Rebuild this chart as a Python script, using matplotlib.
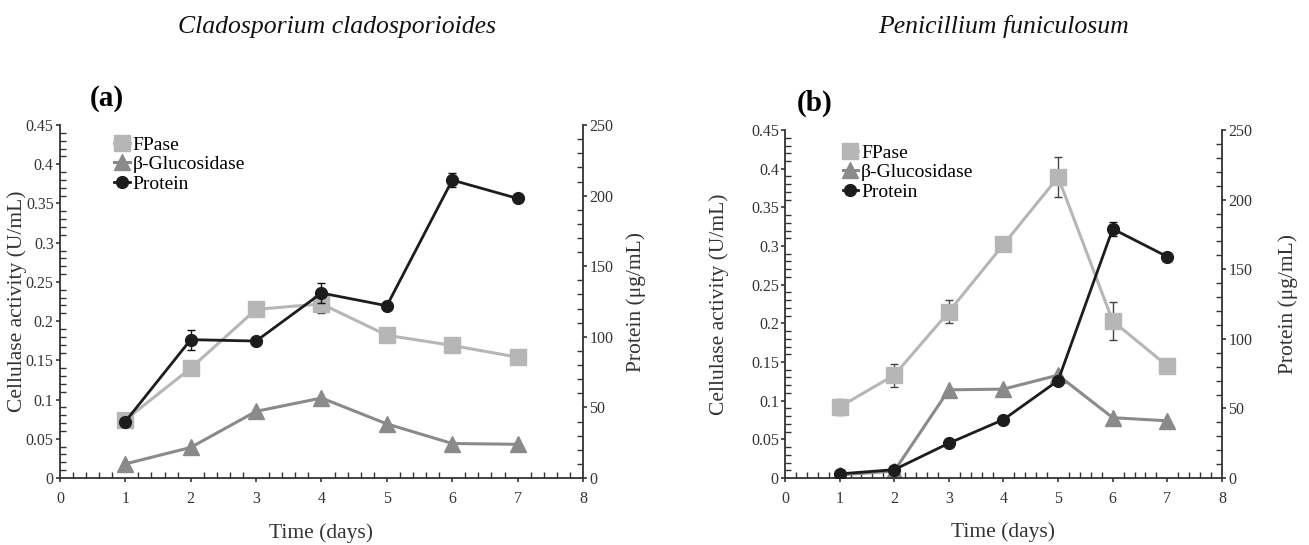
import matplotlib
matplotlib.use('Agg')
import matplotlib.pyplot as plt
from matplotlib.ticker import MultipleLocator, FormatStrFormatter

plt.rcParams['font.family'] = ['Liberation Serif', 'DejaVu Serif']

days = [1, 2, 3, 4, 5, 6, 7]

# (a) Cladosporium cladosporioides
fpase_a = [0.074, 0.140, 0.215, 0.222, 0.182, 0.169, 0.154]
fpase_a_err = [0, 0, 0, 0.012, 0, 0, 0]
bglu_a = [0.018, 0.039, 0.085, 0.102, 0.069, 0.044, 0.043]
prot_a = [40, 98, 97, 131, 122, 211, 198]
prot_a_err = [0, 7, 0, 7, 0, 5, 0]

# (b) Penicillium funiculosum
fpase_b = [0.092, 0.133, 0.215, 0.302, 0.389, 0.203, 0.145]
fpase_b_err = [0.010, 0.015, 0.015, 0.003, 0.026, 0.025, 0]
bglu_b = [0.004, 0.009, 0.114, 0.115, 0.133, 0.078, 0.074]
prot_b = [3, 6, 25, 42, 70, 179, 159]
prot_b_err = [0, 0, 0, 0, 0, 5, 0]

titles = ['Cladosporium cladosporioides', 'Penicillium funiculosum']
panel_tags = ['(a)', '(b)']

c_fpase = '#b6b6b6'
c_bglu = '#8a8a8a'
c_prot = '#1c1c1c'
c_axis = '#333333'

fig = plt.figure(figsize=(13.09, 5.45), dpi=100)
rects = [[0.0458, 0.1229, 0.3996, 0.6477], [0.5997, 0.1229, 0.3338, 0.6385]]
data = [(fpase_a, fpase_a_err, bglu_a, prot_a, prot_a_err),
        (fpase_b, fpase_b_err, bglu_b, prot_b, prot_b_err)]
# label positions (axes coords) for left/right y labels and legend anchor
ylab_x = [(-0.082, 1.101), (-0.151, 1.151)]
leg_pos = [(0.104, 0.969), (0.132, 0.96)]
title_x = [337, 1004]
tag_pos = [(90, 98), (797, 103)]


def style_axis(ax):
    for s in ax.spines.values():
        s.set_linewidth(1.3)
        s.set_color(c_axis)
    ax.tick_params(which='major', direction='out', length=3, width=1.2, pad=1.5,
                   labelsize=11.5, colors=c_axis, labelcolor=c_axis)
    ax.tick_params(which='minor', direction='in', length=4, width=1.0, colors=c_axis)


for i, (fp, fp_err, bg, pr, pr_err) in enumerate(data):
    ax = fig.add_axes(rects[i])
    ax2 = ax.twinx()
    ax.spines['top'].set_visible(False)
    ax2.spines['top'].set_visible(False)
    ax.spines['right'].set_visible(False)
    ax2.spines['left'].set_visible(False)
    ax2.spines['bottom'].set_visible(False)

    l1 = ax.errorbar(days, fp, yerr=fp_err, color=c_fpase, marker='s', markersize=11,
                     lw=2.2, ecolor='#444444', elinewidth=1.0, capsize=3, label='FPase')
    l2, = ax.plot(days, bg, color=c_bglu, marker='^', markersize=12, lw=2.2,
                  label='β-Glucosidase')
    l3 = ax2.errorbar(days, pr, yerr=pr_err, color=c_prot, marker='o', markersize=8.5,
                      lw=2.0, ecolor='#111111', elinewidth=1.0, capsize=3, label='Protein')

    ax.set_xlim(0, 8)
    ax.set_ylim(0, 0.45)
    ax2.set_ylim(0, 250)
    ax.xaxis.set_major_locator(MultipleLocator(1))
    ax.xaxis.set_minor_locator(MultipleLocator(0.2))
    ax.yaxis.set_major_locator(MultipleLocator(0.05))
    ax.yaxis.set_minor_locator(MultipleLocator(0.01))
    ax.yaxis.set_major_formatter(FormatStrFormatter('%g'))
    ax2.yaxis.set_major_locator(MultipleLocator(50))
    ax2.yaxis.set_minor_locator(MultipleLocator(10))
    style_axis(ax)
    style_axis(ax2)
    ax.tick_params(axis='x', which='major', pad=6)

    ax.set_xlabel('Time (days)', fontsize=15.5, color=c_axis)
    ax.xaxis.set_label_coords(0.5, -0.127)
    ax.set_ylabel('Cellulase activity (U/mL)', fontsize=15.5, color=c_axis, va='center')
    ax.yaxis.set_label_coords(ylab_x[i][0], 0.5)
    ax2.set_ylabel('Protein (μg/mL)', fontsize=15.5, color=c_axis, va='center',
                   rotation=90)
    ax2.yaxis.set_label_coords(ylab_x[i][1], 0.5)

    ax2.legend(handles=[l1[0], l2, l3[0]], labels=['FPase', 'β-Glucosidase', 'Protein'],
               loc='upper left', bbox_to_anchor=leg_pos[i],
               frameon=False, fontsize=14, handlelength=0.8, handletextpad=0.15,
               labelspacing=0.1, borderaxespad=0, borderpad=0)

    fig.text(title_x[i] / 1309, 1 - 27 / 545, titles[i], style='italic', fontsize=18.5,
             ha='center', va='center', color='#111111')
    fig.text(tag_pos[i][0] / 1309, 1 - tag_pos[i][1] / 545, panel_tags[i],
             fontweight='bold', fontsize=21, ha='left', va='center')

fig.savefig('out.png', dpi=100)
